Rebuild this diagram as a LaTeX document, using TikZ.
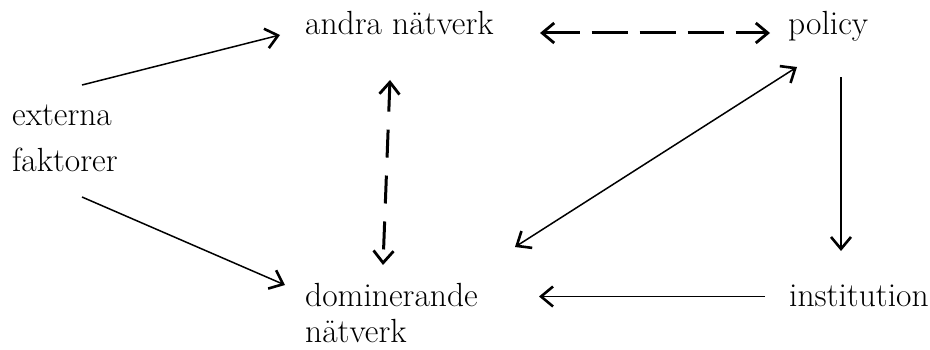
\documentclass[tikz,border=0pt]{standalone}
\usepackage{amsmath}
\usetikzlibrary{arrows.meta}

\begin{document}
\begin{tikzpicture}[x=1pt,y=1pt,
    lbl/.style={inner sep=0pt,anchor=base west,align=left,font=\fontsize{33.5}{40}\selectfont},
    pil/.style={line width=1.5pt,-{Straight Barb[length=12pt,width=20pt,line width=2.6pt]}},
    dpil/.style={line width=3pt,{Straight Barb[length=12pt,width=20pt,line width=2.8pt]}-{Straight Barb[length=12pt,width=20pt,line width=2.8pt]}},
    spil/.style={line width=1.5pt,{Straight Barb[length=12pt,width=20pt,line width=2.6pt]}-{Straight Barb[length=12pt,width=20pt,line width=2.6pt]}}]
    \useasboundingbox (0,0) rectangle (930,349);
    \node[lbl] (andra) at (305,314) {andra nätverk};
    \node[lbl] (policy) at (788,314) {policy};
    \node[lbl] (ext) at (12,178) {externa\\[6pt]faktorer};
    \node[lbl] (dom) at (305,7) {dominerande\\[-4pt]nätverk};
    \node[lbl] (inst) at (789,43) {institution};
    \draw[pil] ([shift={(70,86)}]ext.base west) -- ([xshift=-25pt]andra.base west);
    \draw[pil] ([shift={(70,-26)}]ext.base west) -- ([shift={(-20,57)}]dom.base west);
    \draw[dpil,dash pattern=on 28pt off 18pt] ([shift={(85,-45)}]andra.base west) -- ([shift={(78,77)}]dom.base west);
    \draw[dpil,dash pattern=on 36pt off 12pt] ([shift={(235,2)}]andra.base west) -- ([shift={(-18,2)}]policy.base west);
    \draw[spil] ([shift={(210,95)}]dom.base west) -- ([shift={(9,-32)}]policy.base west);
    \draw[pil] ([shift={(53,-42)}]policy.base west) -- ([shift={(52,55)}]inst.base west);
    \draw[pil] ([shift={(-24,9.5)}]inst.base west) -- ([shift={(234,45.5)}]dom.base west);
\end{tikzpicture}
\end{document}
